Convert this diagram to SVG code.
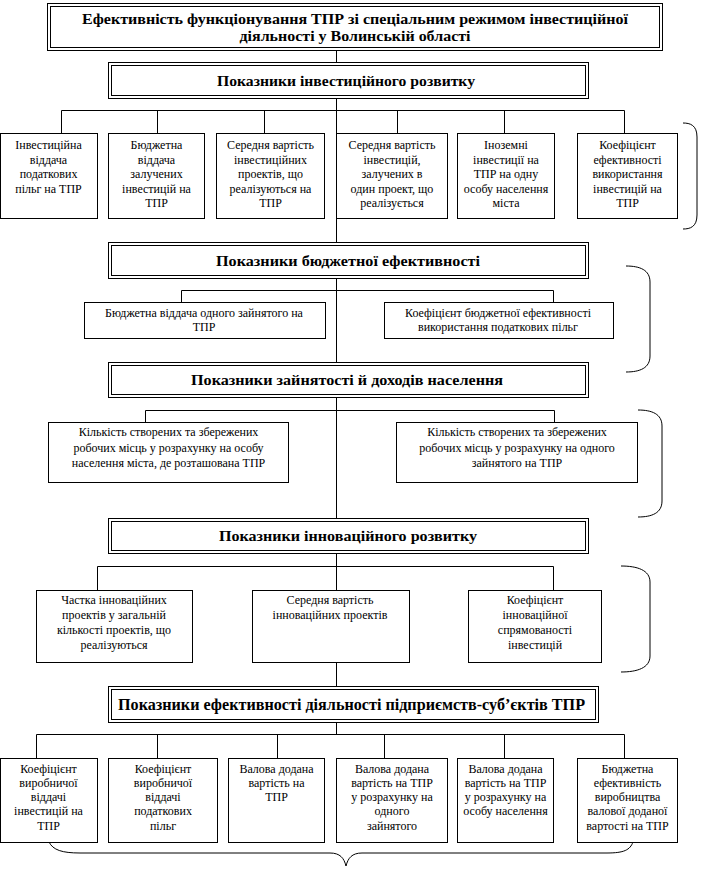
<svg xmlns="http://www.w3.org/2000/svg" width="722" height="869" viewBox="0 0 722 869">
<style>
rect{fill:#fff;stroke:#000;stroke-width:1}
rect.in{fill:none}
.c line,.c path,.br path{stroke:#000;stroke-width:1;fill:none}
text{font-family:"Liberation Serif","Times New Roman",serif;fill:#000;text-anchor:middle}
.t{font-size:12px}
.h{font-size:15px;font-weight:bold}
.h5{font-size:16px;font-weight:bold}
</style>
<rect x="0" y="0" width="722" height="869" style="stroke:none"/>
<g id="connectors" class="c">
<line x1="336.5" y1="50.5" x2="336.5" y2="734.5"/>
<line x1="61.5" y1="110.5" x2="624.5" y2="110.5"/>
<line x1="61.5" y1="110.5" x2="61.5" y2="133.5"/>
<line x1="157.5" y1="110.5" x2="157.5" y2="133.5"/>
<line x1="264.5" y1="110.5" x2="264.5" y2="133.5"/>
<line x1="397.5" y1="110.5" x2="397.5" y2="133.5"/>
<line x1="504.5" y1="110.5" x2="504.5" y2="133.5"/>
<line x1="624.5" y1="110.5" x2="624.5" y2="133.5"/>
<line x1="181.5" y1="290.5" x2="553.5" y2="290.5"/>
<line x1="181.5" y1="290.5" x2="181.5" y2="302.5"/>
<line x1="553.5" y1="290.5" x2="553.5" y2="302.5"/>
<line x1="145.5" y1="410.5" x2="554.5" y2="410.5"/>
<line x1="145.5" y1="410.5" x2="145.5" y2="422.5"/>
<line x1="554.5" y1="410.5" x2="554.5" y2="422.5"/>
<line x1="97.5" y1="566.5" x2="553.5" y2="566.5"/>
<line x1="97.5" y1="566.5" x2="97.5" y2="590.5"/>
<line x1="553.5" y1="566.5" x2="553.5" y2="590.5"/>
<line x1="36.5" y1="734.5" x2="624.5" y2="734.5"/>
<line x1="36.5" y1="734.5" x2="36.5" y2="758.5"/>
<line x1="157.5" y1="734.5" x2="157.5" y2="758.5"/>
<line x1="277.5" y1="734.5" x2="277.5" y2="758.5"/>
<line x1="384.5" y1="734.5" x2="384.5" y2="758.5"/>
<line x1="504.5" y1="734.5" x2="504.5" y2="758.5"/>
<line x1="624.5" y1="734.5" x2="624.5" y2="758.5"/>
</g>
<g id="braces" class="br">
<path d="M683,123 C690,123 697,125 697,137 L697,215 C697,227 690,229 683,229"/>
<path d="M626,266 C640,266 650,270 650,282 L650,356 C650,368 640,372 626,372"/>
<path d="M638,410 C652,410 662,414 662,426 L662,501 C662,513 652,517 638,517"/>
<path d="M621,566 C637,566 650,570 650,582 L650,656 C650,668 637,672 621,672"/>
<path d="M49,842 C53,850 62,853 80,853 L330,853 C340,853 344,858 346,866 C348,858 352,853 362,853 L607,853 C624,853 630,850 633,842"/>
</g>
<g id="title">
<rect x="47.5" y="3.5" width="615" height="47"/>
<rect class="in" x="50.5" y="6.5" width="609" height="41"/>
<text class="h" x="355" y="24" textLength="546" lengthAdjust="spacingAndGlyphs">Ефективність функціонування ТПР зі спеціальним режимом інвестиційної</text>
<text class="h" x="355" y="41" textLength="231" lengthAdjust="spacingAndGlyphs">діяльності у Волинській області</text>
</g>
<g id="s1">
<rect x="108.5" y="62.5" width="480" height="36"/>
<rect class="in" x="111.5" y="65.5" width="474" height="30"/>
<text class="h" x="346" y="86" textLength="258" lengthAdjust="spacingAndGlyphs">Показники інвестиційного розвитку</text>
</g>
<g id="n1a"><rect x="0.5" y="133.5" width="97" height="85"/>
<text class="t" x="48.5" y="149">Інвестиційна</text><text class="t" x="48.5" y="163.5">віддача</text><text class="t" x="48.5" y="178">податкових</text><text class="t" x="48.5" y="192.5">пільг на ТПР</text></g>
<g id="n1b"><rect x="108.5" y="133.5" width="96" height="85"/>
<text class="t" x="156.5" y="149">Бюджетна</text><text class="t" x="156.5" y="163.5">віддача</text><text class="t" x="156.5" y="178">залучених</text><text class="t" x="156.5" y="192.5">інвестицій на</text><text class="t" x="156.5" y="207">ТПР</text></g>
<g id="n1c"><rect x="216.5" y="133.5" width="108" height="85"/>
<text class="t" x="270.5" y="149">Середня вартість</text><text class="t" x="270.5" y="163.5">інвестиційних</text><text class="t" x="270.5" y="178">проектів, що</text><text class="t" x="270.5" y="192.5">реалізуються на</text><text class="t" x="270.5" y="207">ТПР</text></g>
<g id="n1d"><rect x="336.5" y="133.5" width="111" height="85"/>
<text class="t" x="392" y="149">Середня вартість</text><text class="t" x="392" y="163.5">інвестицій,</text><text class="t" x="392" y="178">залучених в</text><text class="t" x="392" y="192.5">один проект, що</text><text class="t" x="392" y="207">реалізується</text></g>
<g id="n1e"><rect x="457.5" y="133.5" width="97" height="85"/>
<text class="t" x="506" y="149">Іноземні</text><text class="t" x="506" y="163.5">інвестиції на</text><text class="t" x="506" y="178">ТПР на одну</text><text class="t" x="506" y="192.5">особу населення</text><text class="t" x="506" y="207">міста</text></g>
<g id="n1f"><rect x="577.5" y="133.5" width="100" height="85"/>
<text class="t" x="627.5" y="149">Коефіцієнт</text><text class="t" x="627.5" y="163.5">ефективності</text><text class="t" x="627.5" y="178">використання</text><text class="t" x="627.5" y="192.5">інвестицій на</text><text class="t" x="627.5" y="207">ТПР</text></g>
<g id="s2">
<rect x="108.5" y="242.5" width="480" height="36"/>
<rect class="in" x="111.5" y="245.5" width="474" height="30"/>
<text class="h" x="348" y="266" textLength="264" lengthAdjust="spacingAndGlyphs">Показники бюджетної ефективності</text>
</g>
<g id="n2a"><rect x="84.5" y="302.5" width="241" height="36"/>
<text class="t" x="204" y="317">Бюджетна віддача одного зайнятого на</text><text class="t" x="204" y="331">ТПР</text></g>
<g id="n2b"><rect x="384.5" y="302.5" width="229" height="36"/>
<text class="t" x="498" y="317">Коефіцієнт бюджетної ефективності</text><text class="t" x="498" y="331">використання податкових пільг</text></g>
<g id="s3">
<rect x="108.5" y="362.5" width="480" height="35"/>
<rect class="in" x="111.5" y="365.5" width="474" height="29"/>
<text class="h" x="347" y="385" textLength="312" lengthAdjust="spacingAndGlyphs">Показники зайнятості й доходів населення</text>
</g>
<g id="n3a"><rect x="48.5" y="422.5" width="240" height="60"/>
<text class="t" x="168.5" y="436">Кількість створених та збережених</text><text class="t" x="168.5" y="452">робочих місць у розрахунку на особу</text><text class="t" x="168.5" y="467">населення міста, де розташована ТПР</text></g>
<g id="n3b"><rect x="396.5" y="422.5" width="241" height="60"/>
<text class="t" x="517" y="436">Кількість створених та збережених</text><text class="t" x="517" y="452">робочих місць у розрахунку на одного</text><text class="t" x="517" y="467">зайнятого на ТПР</text></g>
<g id="s4">
<rect x="108.5" y="518.5" width="480" height="35"/>
<rect class="in" x="111.5" y="521.5" width="474" height="29"/>
<text class="h" x="348" y="541" textLength="258" lengthAdjust="spacingAndGlyphs">Показники інноваційного розвитку</text>
</g>
<g id="n4a"><rect x="36.5" y="590.5" width="156" height="72"/>
<text class="t" x="114" y="604">Частка інноваційних</text><text class="t" x="114" y="619">проектів у загальній</text><text class="t" x="114" y="634">кількості проектів, що</text><text class="t" x="114" y="649">реалізуються</text></g>
<g id="n4b"><rect x="252.5" y="590.5" width="157" height="72"/>
<text class="t" x="330" y="604">Середня вартість</text><text class="t" x="330" y="619">інноваційних проектів</text></g>
<g id="n4c"><rect x="468.5" y="590.5" width="133" height="72"/>
<text class="t" x="535" y="604">Коефіцієнт</text><text class="t" x="535" y="619">інноваційної</text><text class="t" x="535" y="634">спрямованості</text><text class="t" x="535" y="649">інвестицій</text></g>
<g id="s5">
<rect x="108.5" y="686.5" width="490" height="36"/>
<rect class="in" x="111.5" y="689.5" width="484" height="30"/>
<text class="h5" x="351.5" y="710" textLength="467" lengthAdjust="spacingAndGlyphs">Показники ефективності діяльності підприємств-суб’єктів ТПР</text>
</g>
<g id="n5a"><rect x="0.5" y="758.5" width="97" height="84"/>
<text class="t" x="48.5" y="773">Коефіцієнт</text><text class="t" x="48.5" y="787">виробничої</text><text class="t" x="48.5" y="801">віддачі</text><text class="t" x="48.5" y="815">інвестицій на</text><text class="t" x="48.5" y="830">ТПР</text></g>
<g id="n5b"><rect x="108.5" y="758.5" width="109" height="84"/>
<text class="t" x="163" y="773">Коефіцієнт</text><text class="t" x="163" y="787">виробничої</text><text class="t" x="163" y="801">віддачі</text><text class="t" x="163" y="815">податкових</text><text class="t" x="163" y="830">пільг</text></g>
<g id="n5c"><rect x="228.5" y="758.5" width="96" height="84"/>
<text class="t" x="276.5" y="773">Валова додана</text><text class="t" x="276.5" y="787">вартість на</text><text class="t" x="276.5" y="801">ТПР</text></g>
<g id="n5d"><rect x="336.5" y="758.5" width="111" height="84"/>
<text class="t" x="392" y="773">Валова додана</text><text class="t" x="392" y="787">вартість на ТПР</text><text class="t" x="392" y="801">у розрахунку на</text><text class="t" x="392" y="815">одного</text><text class="t" x="392" y="830">зайнятого</text></g>
<g id="n5e"><rect x="457.5" y="758.5" width="96" height="84"/>
<text class="t" x="505.5" y="773">Валова додана</text><text class="t" x="505.5" y="787">вартість на ТПР</text><text class="t" x="505.5" y="801">у розрахунку на</text><text class="t" x="505.5" y="815">особу населення</text></g>
<g id="n5f"><rect x="577.5" y="758.5" width="100" height="84"/>
<text class="t" x="627.5" y="773">Бюджетна</text><text class="t" x="627.5" y="787">ефективність</text><text class="t" x="627.5" y="801">виробництва</text><text class="t" x="627.5" y="815">валової доданої</text><text class="t" x="627.5" y="830">вартості на ТПР</text></g>
</svg>
